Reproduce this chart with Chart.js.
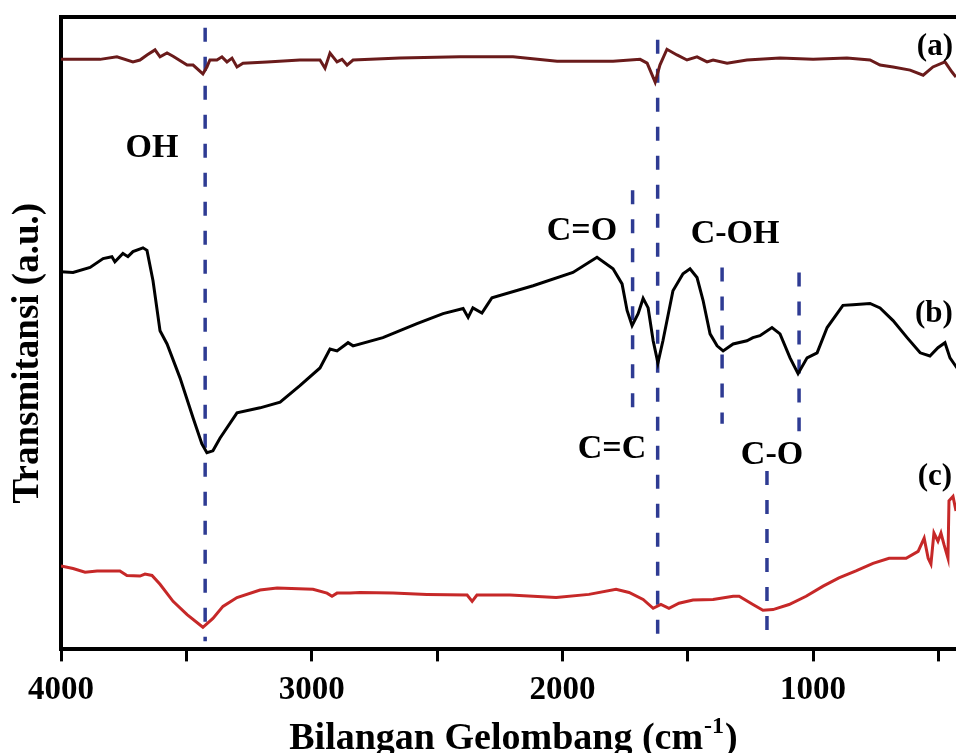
<!DOCTYPE html>
<html>
<head>
<meta charset="utf-8">
<script src="https://cdn.jsdelivr.net/npm/chart.js@4.4.0/dist/chart.umd.min.js"></script>
<style>
  html, body { margin: 0; padding: 0; background: #fff; }
  #wrap { width: 956px; height: 753px; }
</style>
</head>
<body>
<div id="wrap"><canvas id="ftir" width="956" height="753"></canvas></div>
<script>
// spectra (wavenumber cm-1, transmittance a.u.)
const waveA = [4000,3844,3777,3713,3685,3657,3625,3605,3577,3553,3497,3473,3434,3418,3406,3378,3358,3338,3318,3298,3274,3178,3047,2967,2947,2927,2899,2879,2859,2835,2648,2408,2197,2021,1798,1690,1662,1630,1611,1583,1543,1503,1463,1423,1399,1343,1264,1132,1000,865,773,733,681,613,561,522,474,446,430];
const transA = [93.3,93.3,93.7,92.9,93.2,94.0,94.8,93.7,94.3,93.8,92.4,92.4,91.0,92.1,93.2,93.2,93.7,92.9,93.5,92.1,92.7,92.9,93.2,93.2,91.9,94.3,92.9,93.3,92.4,93.2,93.5,93.7,93.7,93.0,93.0,93.3,92.7,89.7,92.4,94.9,94.0,93.2,93.7,92.9,93.2,92.7,93.2,93.5,93.3,93.5,93.2,92.4,92.1,91.6,90.8,92.1,92.9,91.3,90.5];

const waveB = [4000,3952,3884,3832,3797,3785,3753,3733,3713,3673,3657,3633,3605,3577,3525,3473,3438,3418,3394,3366,3298,3206,3126,3047,2967,2927,2899,2855,2835,2716,2580,2476,2396,2376,2357,2321,2301,2281,2117,1958,1862,1798,1762,1742,1722,1698,1678,1658,1638,1619,1599,1559,1519,1491,1463,1439,1411,1383,1359,1319,1264,1240,1212,1164,1132,1092,1060,1024,984,944,881,841,773,733,681,625,573,534,502,474,454,426];
const transB = [59.7,59.6,60.4,61.8,62.1,61.3,62.6,62.1,62.9,63.5,63.1,58.3,50.4,48.3,42.9,36.6,32.5,31.1,31.4,33.4,37.4,38.2,39.1,41.7,44.5,47.5,47.2,48.5,48.0,49.3,51.5,53.1,53.9,52.5,54.0,53.2,54.4,55.6,57.5,59.6,62.0,60.2,57.8,53.6,51.2,53.1,55.5,54.0,48.8,45.3,48.8,56.7,59.4,60.2,58.8,55.2,49.9,48.0,47.2,48.3,48.8,49.3,49.6,50.9,49.9,46.1,43.6,46.1,46.9,50.9,54.4,54.5,54.7,54.0,52.0,49.3,46.9,46.4,47.7,48.5,46.1,44.5];

const waveC = [4000,3952,3904,3856,3765,3737,3685,3665,3637,3605,3553,3497,3434,3394,3354,3298,3206,3138,2995,2939,2919,2899,2847,2807,2676,2540,2380,2360,2341,2209,2025,1894,1786,1734,1678,1638,1607,1575,1535,1479,1399,1319,1295,1240,1200,1160,1096,1028,960,897,829,761,697,629,581,557,541,530,518,502,490,478,462,458,442,430];
const transC = [13.2,12.8,12.2,12.4,12.4,11.7,11.6,11.9,11.7,10.3,7.6,5.5,3.5,4.9,6.8,8.2,9.4,9.7,9.5,8.9,8.4,8.9,8.9,9.0,8.9,8.7,8.6,7.6,8.6,8.6,8.2,8.7,9.5,9.0,7.9,6.5,7.1,6.5,7.3,7.8,7.9,8.4,8.4,7.1,6.2,6.3,7.1,8.4,10.0,11.3,12.4,13.6,14.4,14.4,15.5,17.6,14.4,13.5,18.4,17.1,18.4,16.6,14.4,23.5,24.2,21.9];

// x ticks
const tickValues = [4000,3500,3000,2500,2000,1500,1000,500];
const tickLabels = [4000,3000,2000,1000];

// dashed peak markers
const markerWave = [3425,1720,1620,1363,1056,1184];
const markerTop = [98.3,72.6,96.4,60.4,59.6,28.2];
const markerBottom = [1.3,36.5,1.3,35.7,34.5,2.5];

// text annotations (wavenumber, level)
const peakNames = ['OH','C=O','C=C','C-OH','C-O'];
const peakNameWave = [3637,1922,1802,1311,1164];
const peakNameLevel = [79.2,66.1,31.7,65.6,30.7];
const seriesNames = ['(a)','(b)','(c)'];
const seriesNameWave = [514,518,514];
const seriesNameLevel = [95.2,53.1,27.3];

const serif = '"Liberation Serif", "Times New Roman", serif';
const toPts = (xs, ys) => xs.map((x, i) => ({ x: x, y: ys[i] }));

const markerSets = markerWave.map((w, i) => ({
  data: [{ x: w, y: markerTop[i] }, { x: w, y: markerBottom[i] }],
  borderColor: '#2e3b93',
  borderWidth: 3.5,
  borderDash: [14, 15],
  pointRadius: 0,
  order: 5
}));

const spectrum = (xs, ys, color) => ({
  data: toPts(xs, ys),
  borderColor: color,
  borderWidth: 3,
  pointRadius: 0,
  tension: 0,
  order: 0
});

// frame top edge, axis titles and peak labels
const decor = {
  id: 'decor',
  afterDraw(chart) {
    const { ctx, chartArea: a, scales } = chart;
    ctx.save();
    ctx.strokeStyle = '#000';
    ctx.lineWidth = 4;
    ctx.beginPath();
    ctx.moveTo(a.left - 2, a.top);
    ctx.lineTo(a.right, a.top);
    ctx.stroke();

    ctx.fillStyle = '#000';
    ctx.textAlign = 'center';
    ctx.textBaseline = 'middle';
    ctx.font = 'bold 34px ' + serif;
    peakNames.forEach((t, i) => {
      ctx.fillText(t, scales.x.getPixelForValue(peakNameWave[i]), scales.y.getPixelForValue(peakNameLevel[i]));
    });
    ctx.font = 'bold 31px ' + serif;
    seriesNames.forEach((t, i) => {
      ctx.fillText(t, scales.x.getPixelForValue(seriesNameWave[i]), scales.y.getPixelForValue(seriesNameLevel[i]));
    });

    // y title
    ctx.save();
    ctx.font = 'bold 37px ' + serif;
    ctx.textBaseline = 'alphabetic';
    ctx.translate(38, (a.top + a.bottom) / 2 + 20);
    ctx.rotate(-Math.PI / 2);
    ctx.fillText('Transmitansi (a.u.)', 0, 0);
    ctx.restore();

    // x title with superscript
    ctx.textAlign = 'left';
    ctx.textBaseline = 'alphabetic';
    const main = 'Bilangan Gelombang (cm', sup = '-1', end = ')';
    ctx.font = 'bold 38px ' + serif;
    const w1 = ctx.measureText(main).width, w3 = ctx.measureText(end).width;
    ctx.font = 'bold 24px ' + serif;
    const w2 = ctx.measureText(sup).width;
    let x0 = (a.left + a.right) / 2 + 4 - (w1 + w2 + w3) / 2;
    const base = a.bottom + 100;
    ctx.font = 'bold 38px ' + serif;
    ctx.fillText(main, x0, base);
    ctx.font = 'bold 24px ' + serif;
    ctx.fillText(sup, x0 + w1 + 1, base - 16);
    ctx.font = 'bold 38px ' + serif;
    ctx.fillText(end, x0 + w1 + w2 + 2, base);
    ctx.restore();
  }
};

new Chart(document.getElementById('ftir'), {
  type: 'line',
  data: {
    datasets: [
      ...markerSets,
      spectrum(waveA, transA, '#6a1b1b'),
      spectrum(waveB, transB, '#000000'),
      spectrum(waveC, transC, '#c62828')
    ]
  },
  options: {
    responsive: false,
    animation: false,
    layout: { padding: { left: 61, top: 17, right: 0, bottom: 34 } },
    plugins: { legend: { display: false }, tooltip: { enabled: false } },
    scales: {
      x: {
        type: 'linear',
        reverse: true,
        min: 430,
        max: 4000,
        afterBuildTicks: s => { s.ticks = tickValues.map(v => ({ value: v })); },
        ticks: {
          autoSkip: false,
          maxRotation: 0,
          padding: 9,
          color: '#000',
          font: { family: serif, size: 33, weight: 'bold' },
          callback: v => tickLabels.includes(v) ? String(v) : ''
        },
        grid: { drawOnChartArea: false, tickLength: 12, tickWidth: 3, tickColor: '#000' },
        border: { color: '#000', width: 4 }
      },
      y: {
        min: 0,
        max: 100,
        ticks: { display: false },
        grid: { drawOnChartArea: false, drawTicks: false },
        border: { color: '#000', width: 4 }
      }
    }
  },
  plugins: [decor]
});
</script>
</body>
</html>
